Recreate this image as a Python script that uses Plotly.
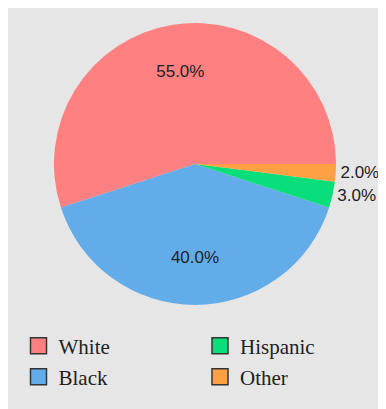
import plotly.graph_objects as go

categories = ["White", "Black", "Hispanic", "Other"]
shares = [55.0, 40.0, 3.0, 2.0]
colors = ["#ff8080", "#63acea", "#0ade7a", "#ffa044"]
legend_rows = {"White": "legend", "Hispanic": "legend", "Black": "legend2", "Other": "legend2"}

W, H = 386, 409
# page body has an 8px margin, so figure coords = screen coords - 8
cx, cy, r = 187, 156, 141
hole = 0.33

def dom(rad):
    return dict(x=[(cx - rad) / W, (cx + rad) / W], y=[1 - (cy + rad) / H, 1 - (cy - rad) / H])

fig = go.Figure()
# outer ring carries the labels (so inside labels sit further out)
fig.add_trace(go.Pie(
    labels=categories,
    values=shares,
    sort=False,
    direction="counterclockwise",
    rotation=252,
    hole=hole,
    marker=dict(colors=colors, line=dict(width=0)),
    texttemplate="%{percent:.1%}",
    textposition=["inside", "inside", "outside", "outside"],
    insidetextorientation="horizontal",
    insidetextfont=dict(family="Liberation Sans", size=17, color="#222222"),
    outsidetextfont=dict(family="Liberation Sans", size=17, color="#222222"),
    showlegend=False,
    hoverinfo="label+percent",
    domain=dom(r),
))
# inner disc fills the hole with the same slices
fig.add_trace(go.Pie(
    labels=categories,
    values=shares,
    sort=False,
    direction="counterclockwise",
    rotation=252,
    marker=dict(colors=colors, line=dict(width=0)),
    textinfo="none",
    showlegend=False,
    hoverinfo="label+percent",
    domain=dom(r * hole + 1.5),
))

for name in ["White", "Hispanic", "Black", "Other"]:
    i = categories.index(name)
    fig.add_trace(go.Scatter(
        x=[None], y=[None], mode="markers", name=name,
        marker=dict(symbol="square", size=20, color=colors[i], line=dict(color="#333333", width=1.5)),
        legend=legend_rows[name],
    ))

legend_common = dict(
    orientation="h", xanchor="left", yanchor="middle",
    font=dict(family="Liberation Serif", size=21, color="#222222"),
    bgcolor="rgba(0,0,0,0)", entrywidth=136.5, entrywidthmode="pixels",
)
fig.update_layout(
    width=W, height=H,
    paper_bgcolor="#e6e6e6", plot_bgcolor="#e6e6e6",
    margin=dict(l=0, r=0, t=0, b=0),
    xaxis=dict(visible=False), yaxis=dict(visible=False),
    legend=dict(x=10.5 / W, y=1 - 338 / H, **legend_common),
    legend2=dict(x=10.5 / W, y=1 - 369 / H, **legend_common),
)

fig.write_html("out.html")
